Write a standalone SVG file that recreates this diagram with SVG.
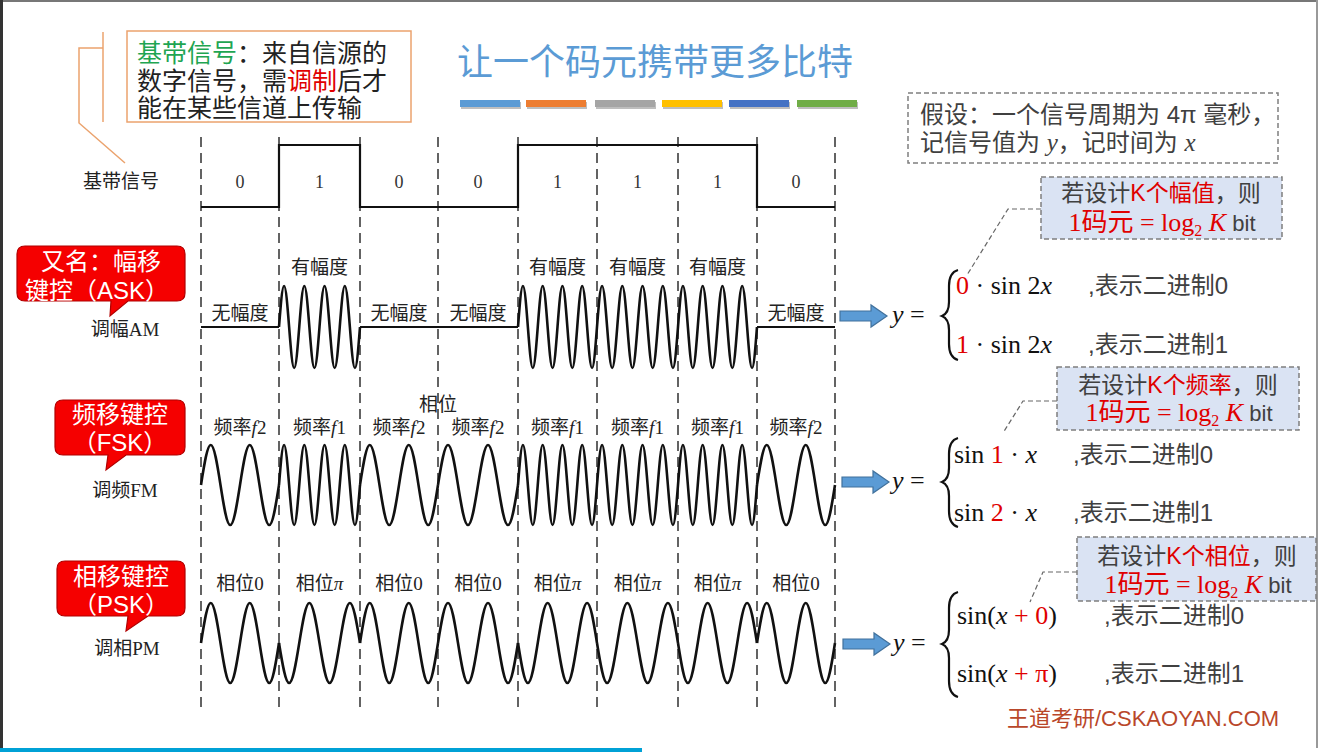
<svg xmlns="http://www.w3.org/2000/svg" xmlns:xlink="http://www.w3.org/1999/xlink" width="1318" height="756" viewBox="0 0 1318 756">
<style>
.wave{fill:none;stroke:#111;stroke-width:2.6;vector-effect:non-scaling-stroke;stroke-linejoin:round}
.flat{fill:none;stroke:#111;stroke-width:2.2}
.dash{stroke:#222;stroke-width:1.4;stroke-dasharray:10,6}
.lab{font-family:"Liberation Serif","Noto Sans CJK SC",serif;font-size:19px;fill:#222;text-anchor:middle}
.dig{font-family:"Liberation Serif",serif;font-size:18px;fill:#333;text-anchor:middle}
.it{font-style:italic}
.callout{fill:#f50000;stroke:#b00000;stroke-width:1.2}
.ctext{font-family:"Liberation Sans","Noto Sans CJK SC",sans-serif;font-size:24px;fill:#fff;text-anchor:middle}
.math{font-family:"Liberation Serif","DejaVu Serif",serif;font-size:26px;fill:#111}
.r{fill:#e00000}
.cn{font-family:"Liberation Sans","Noto Sans CJK SC",sans-serif;font-size:24px;fill:#404040}
.brace{fill:none;stroke:#111;stroke-width:2.2}
.arrow{fill:#5b9bd5;stroke:#41719c;stroke-width:1.2}
.kbox{fill:#dae3f3;stroke:#7f7f7f;stroke-width:1.5;stroke-dasharray:5,3}
.abox{fill:#fff;stroke:#7f7f7f;stroke-width:1.5;stroke-dasharray:5,3}
.lead{fill:none;stroke:#666;stroke-width:1.2;stroke-dasharray:5,3}
.k1{font-family:"Liberation Sans","Noto Sans CJK SC",sans-serif;font-size:23px;fill:#404040;text-anchor:middle}
.k2{font-family:"Liberation Serif","Noto Sans CJK SC",serif;font-size:26px;fill:#404040;text-anchor:middle}
.sans{font-family:"Liberation Sans",sans-serif;font-size:22px}
.orange{fill:none;stroke:#eba36e;stroke-width:1.5}
</style>
<defs>
<path id="f1" class="wave" d="M0,0 c1.615,-20.48 3.160,-40 4.953,-40 s3.338,19.52 4.953,40 s3.160,40 4.953,40 s3.338,-19.52 4.953,-40 s3.160,-40 4.953,-40 s3.338,19.52 4.953,40 s3.160,40 4.953,40 s3.338,-19.52 4.953,-40 s3.160,-40 4.953,-40 s3.338,19.52 4.953,40 s3.160,40 4.953,40 s3.338,-19.52 4.953,-40 s3.160,-40 4.953,-40 s3.338,19.52 4.953,40 s3.160,40 4.953,40 s3.338,-19.52 4.953,-40"/>
<path id="f2" class="wave" d="M0,0 c3.229,-20.48 6.320,-40 9.906,-40 s6.677,19.52 9.906,40 s6.320,40 9.906,40 s6.677,-19.52 9.906,-40 s6.320,-40 9.906,-40 s6.677,19.52 9.906,40 s6.320,40 9.906,40 s6.677,-19.52 9.906,-40"/>
<path id="arr" class="arrow" d="M0,-5 H31 V-11 L47,0 L31,11 V5 H0 Z"/>
</defs>
<rect width="1318" height="756" fill="#fff"/>
<g id="frame">
<line x1="0" y1="1" x2="1318" y2="1" stroke="#777" stroke-width="2"/>
<line x1="1.5" y1="0" x2="1.5" y2="748" stroke="#333" stroke-width="3"/>
<line x1="1317" y1="0" x2="1317" y2="748" stroke="#999" stroke-width="2"/>
<rect x="0" y="748" width="642" height="4" fill="#00a1d6"/>
</g>
<g id="title">
<text x="655" y="75" font-family="Noto Sans CJK SC,sans-serif" font-size="36" fill="#5b9bd5" text-anchor="middle">让一个码元携带更多比特</text>
<g opacity="0.25" fill="#000"><rect x="461" y="102" width="60" height="7"/><rect x="527" y="102" width="60" height="7"/><rect x="596" y="102" width="60" height="7"/><rect x="663" y="102" width="60" height="7"/><rect x="730" y="102" width="60" height="7"/><rect x="798" y="102" width="60" height="7"/></g>
<rect x="460" y="100" width="60" height="7" fill="#5b9bd5"/>
<rect x="526" y="100" width="60" height="7" fill="#ed7d31"/>
<rect x="595" y="100" width="60" height="7" fill="#a5a5a5"/>
<rect x="662" y="100" width="60" height="7" fill="#ffc000"/>
<rect x="729" y="100" width="60" height="7" fill="#4472c4"/>
<rect x="797" y="100" width="60" height="7" fill="#70ad47"/>
</g>
<g id="note-baseband">
<line class="orange" x1="103" y1="32" x2="103" y2="122"/>
<polyline class="orange" points="103,48 79,48 79,123 125,163"/>
<rect x="127" y="31" width="284" height="91" fill="#fff" stroke="#eba36e" stroke-width="1.5"/>
<text font-family="Liberation Sans,Noto Sans CJK SC,sans-serif" font-size="25" fill="#222">
<tspan x="137" y="62"><tspan fill="#1fa552">基带信号</tspan>：来自信源的</tspan>
<tspan x="137" y="90">数字信号，需<tspan fill="#e00000">调制</tspan>后才</tspan>
<tspan x="137" y="117">能在某些信道上传输</tspan>
</text>
</g>
<g id="grid">
<line class="dash" x1="201" y1="137" x2="201" y2="708"/>
<line class="dash" x1="279" y1="137" x2="279" y2="708"/>
<line class="dash" x1="360" y1="137" x2="360" y2="708"/>
<line class="dash" x1="438" y1="137" x2="438" y2="708"/>
<line class="dash" x1="518" y1="137" x2="518" y2="708"/>
<line class="dash" x1="597" y1="137" x2="597" y2="708"/>
<line class="dash" x1="678" y1="137" x2="678" y2="708"/>
<line class="dash" x1="757" y1="137" x2="757" y2="708"/>
<line class="dash" x1="835" y1="137" x2="835" y2="708"/>
</g>
<g id="baseband">
<text class="lab" x="121" y="188">基带信号</text>
<path class="flat" d="M201,207 H279 V145 H360 V207 H518 V145 H757 V207 H835"/>
<text class="dig" x="240" y="188">0</text>
<text class="dig" x="319.5" y="188">1</text>
<text class="dig" x="399" y="188">0</text>
<text class="dig" x="478" y="188">0</text>
<text class="dig" x="557.5" y="188">1</text>
<text class="dig" x="637.5" y="188">1</text>
<text class="dig" x="717.5" y="188">1</text>
<text class="dig" x="796" y="188">0</text>
</g>
<g id="ask">
<path class="callout" d="M25,246 H177 Q185,246 185,254 V293 Q185,301 177,301 H128 L110,316 L111,301 H25 Q17,301 17,293 V254 Q17,246 25,246 Z"/>
<text class="ctext" x="101" y="270">又名：幅移</text>
<text class="ctext" x="97" y="299">键控（ASK）</text>
<text class="lab" x="125" y="336">调幅AM</text>
<line class="flat" x1="201" y1="327" x2="279" y2="327"/>
<line class="flat" x1="360" y1="327" x2="518" y2="327"/>
<line class="flat" x1="757" y1="327" x2="835" y2="327"/>
<use xlink:href="#f1" transform="translate(279,327) scale(1.0221,1.025)"/>
<use xlink:href="#f1" transform="translate(518,327) scale(0.9968,1.025)"/>
<use xlink:href="#f1" transform="translate(597,327) scale(1.0221,1.025)"/>
<use xlink:href="#f1" transform="translate(678,327) scale(0.9968,1.025)"/>
<text class="lab" x="240" y="320">无幅度</text>
<text class="lab" x="319.5" y="274">有幅度</text>
<text class="lab" x="399" y="320">无幅度</text>
<text class="lab" x="478" y="320">无幅度</text>
<text class="lab" x="557.5" y="274">有幅度</text>
<text class="lab" x="637.5" y="274">有幅度</text>
<text class="lab" x="717.5" y="274">有幅度</text>
<text class="lab" x="796" y="320">无幅度</text>
</g>
<g id="fsk">
<path class="callout" d="M63,400 H177 Q185,400 185,408 V447 Q185,455 177,455 H126 L106,470 L108,455 H63 Q55,455 55,447 V408 Q55,400 63,400 Z"/>
<text class="ctext" x="120" y="423">频移键控</text>
<text class="ctext" x="120" y="451">（FSK）</text>
<text class="lab" x="125" y="497">调频FM</text>
<use xlink:href="#f2" transform="translate(201,485) scale(0.9842,1)"/>
<use xlink:href="#f1" transform="translate(279,485) scale(1.0221,1)"/>
<use xlink:href="#f2" transform="translate(360,485) scale(0.9842,1)"/>
<use xlink:href="#f2" transform="translate(438,485) scale(1.0095,1)"/>
<use xlink:href="#f1" transform="translate(518,485) scale(0.9968,1)"/>
<use xlink:href="#f1" transform="translate(597,485) scale(1.0221,1)"/>
<use xlink:href="#f1" transform="translate(678,485) scale(0.9968,1)"/>
<use xlink:href="#f2" transform="translate(757,485) scale(0.9842,1)"/>
<text class="lab" x="438" y="411">相位</text>
<text class="lab" x="240" y="434">频率<tspan class="it">f</tspan>2</text>
<text class="lab" x="319.5" y="434">频率<tspan class="it">f</tspan>1</text>
<text class="lab" x="399" y="434">频率<tspan class="it">f</tspan>2</text>
<text class="lab" x="478" y="434">频率<tspan class="it">f</tspan>2</text>
<text class="lab" x="557.5" y="434">频率<tspan class="it">f</tspan>1</text>
<text class="lab" x="637.5" y="434">频率<tspan class="it">f</tspan>1</text>
<text class="lab" x="717.5" y="434">频率<tspan class="it">f</tspan>1</text>
<text class="lab" x="796" y="434">频率<tspan class="it">f</tspan>2</text>
</g>
<g id="psk">
<path class="callout" d="M65,561 H177 Q185,561 185,569 V608 Q185,616 177,616 H148 L126,631 L128,616 H65 Q57,616 57,608 V569 Q57,561 65,561 Z"/>
<text class="ctext" x="121" y="585">相移键控</text>
<text class="ctext" x="121" y="613">（PSK）</text>
<text class="lab" x="127" y="655">调相PM</text>
<use xlink:href="#f2" transform="translate(201,643) scale(0.9842,1)"/>
<use xlink:href="#f2" transform="translate(279,643) scale(1.0221,-1)"/>
<use xlink:href="#f2" transform="translate(360,643) scale(0.9842,1)"/>
<use xlink:href="#f2" transform="translate(438,643) scale(1.0095,1)"/>
<use xlink:href="#f2" transform="translate(518,643) scale(0.9968,-1)"/>
<use xlink:href="#f2" transform="translate(597,643) scale(1.0221,-1)"/>
<use xlink:href="#f2" transform="translate(678,643) scale(0.9968,-1)"/>
<use xlink:href="#f2" transform="translate(757,643) scale(0.9842,1)"/>
<text class="lab" x="240" y="590">相位0</text>
<text class="lab" x="319.5" y="590">相位<tspan class="it">π</tspan></text>
<text class="lab" x="399" y="590">相位0</text>
<text class="lab" x="478" y="590">相位0</text>
<text class="lab" x="557.5" y="590">相位<tspan class="it">π</tspan></text>
<text class="lab" x="637.5" y="590">相位<tspan class="it">π</tspan></text>
<text class="lab" x="717.5" y="590">相位<tspan class="it">π</tspan></text>
<text class="lab" x="796" y="590">相位0</text>
</g>
<g id="assumption">
<rect class="abox" x="908" y="93" width="370" height="70"/>
<text class="cn" font-size="23"><tspan x="920" y="123">假设：一个信号周期为 4π 毫秒，</tspan><tspan x="920" y="151">记信号值为 <tspan font-family="Liberation Serif,serif" font-style="italic" font-size="25">y</tspan>，记时间为 <tspan font-family="Liberation Serif,serif" font-style="italic" font-size="25">x</tspan></tspan></text>
</g>
<g id="connectors">
<use xlink:href="#arr" transform="translate(840,316)"/>
<use xlink:href="#arr" transform="translate(842,482)"/>
<use xlink:href="#arr" transform="translate(843,644)"/>
<polyline class="lead" points="1041,209 1008,209 967,275"/>
<polyline class="lead" points="1057,401 1023,401 1003,433"/>
<polyline class="lead" points="1077,572 1043,572 1030,602"/>
</g>
<g id="formula-ask">
<text class="math" x="892" y="323"><tspan class="it">y</tspan> =</text>
<path class="brace" d="M958,270 C951,272 949,278 949,286 L949,302 C949,310 947,314 942,316 C947,318 949,322 949,330 L949,344 C949,352 951,358 958,360"/>
<text class="math" x="956" y="294"><tspan class="r">0</tspan> · sin 2<tspan class="it">x</tspan></text>
<text class="math" x="956" y="353"><tspan class="r">1</tspan> · sin 2<tspan class="it">x</tspan></text>
<text class="cn" x="1088" y="294">,表示二进制0</text>
<text class="cn" x="1088" y="353">,表示二进制1</text>
</g>
<g id="kbox-ask">
<rect class="kbox" x="1041" y="177" width="241" height="62"/>
<text class="k1" x="1161" y="201">若设计<tspan class="r">K个幅值</tspan>，则</text>
<text class="k2" x="1162" y="231"><tspan class="r">1码元 = log</tspan><tspan class="r" font-size="16" dy="5">2</tspan><tspan class="r it" dy="-5"> K</tspan><tspan class="sans"> bit</tspan></text>
</g>
<g id="formula-fsk">
<text class="math" x="892" y="489"><tspan class="it">y</tspan> =</text>
<path class="brace" d="M958,438 C951,440 949,446 949,454 L949,468 C949,476 947,480 942,482 C947,484 949,488 949,496 L949,511 C949,519 951,525 958,527"/>
<text class="math" x="954" y="463">sin <tspan class="r">1</tspan> · <tspan class="it">x</tspan></text>
<text class="math" x="954" y="521">sin <tspan class="r">2</tspan> · <tspan class="it">x</tspan></text>
<text class="cn" x="1073" y="463">,表示二进制0</text>
<text class="cn" x="1073" y="521">,表示二进制1</text>
</g>
<g id="kbox-fsk">
<rect class="kbox" x="1057" y="367" width="242" height="63"/>
<text class="k1" x="1178" y="393">若设计<tspan class="r">K个频率</tspan>，则</text>
<text class="k2" x="1179" y="421"><tspan class="r">1码元 = log</tspan><tspan class="r" font-size="16" dy="5">2</tspan><tspan class="r it" dy="-5"> K</tspan><tspan class="sans"> bit</tspan></text>
</g>
<g id="formula-psk">
<text class="math" x="893" y="651"><tspan class="it">y</tspan> =</text>
<path class="brace" d="M958,592 C951,594 949,600 949,608 L949,630 C949,638 947,642 942,644 C947,646 949,650 949,658 L949,681 C949,689 951,695 958,697"/>
<text class="math" x="957" y="624">sin(<tspan class="it">x</tspan> <tspan class="r">+ 0</tspan>)</text>
<text class="math" x="957" y="682">sin(<tspan class="it">x</tspan> <tspan class="r">+ π</tspan>)</text>
<text class="cn" x="1104" y="624">,表示二进制0</text>
<text class="cn" x="1104" y="682">,表示二进制1</text>
</g>
<g id="kbox-psk">
<rect class="kbox" x="1077" y="537" width="239" height="64"/>
<text class="k1" x="1197" y="564">若设计<tspan class="r">K个相位</tspan>，则</text>
<text class="k2" x="1198" y="593"><tspan class="r">1码元 = log</tspan><tspan class="r" font-size="16" dy="5">2</tspan><tspan class="r it" dy="-5"> K</tspan><tspan class="sans"> bit</tspan></text>
</g>
<g id="watermark">
<text x="1007" y="726" font-family="Liberation Sans,Noto Sans CJK SC,sans-serif" font-size="22" fill="#b9472a">王道考研/CSKAOYAN.COM</text>
</g>
</svg>
